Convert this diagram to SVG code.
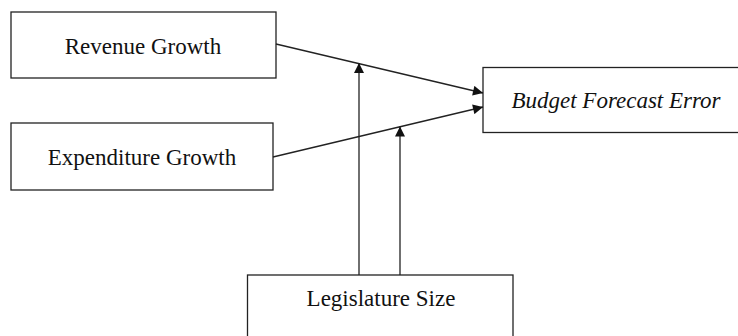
<svg xmlns="http://www.w3.org/2000/svg" width="738" height="336" viewBox="0 0 738 336">
<defs>
<style>
.box{fill:#fff;stroke:#222;stroke-width:1.3}
.lbl{font-family:"Liberation Serif","Times New Roman",serif;font-size:23px;fill:#111;text-anchor:middle}
.it{font-style:italic}
.conn{stroke:#222;stroke-width:1.3;fill:none;marker-end:url(#ah)}
</style>
<marker id="ah" viewBox="0 0 10 10" refX="10" refY="5" markerWidth="12" markerHeight="10" markerUnits="userSpaceOnUse" orient="auto">
<path d="M0,0 L10,5 L0,10 z" fill="#111"/>
</marker>
</defs>
<rect width="738" height="336" fill="#fff"/>
<g id="revenue">
<rect class="box" x="11" y="12" width="265" height="66"/>
<text class="lbl" x="143" y="54">Revenue Growth</text>
</g>
<g id="expenditure">
<rect class="box" x="11" y="123" width="262" height="67"/>
<text class="lbl" x="142" y="165">Expenditure Growth</text>
</g>
<g id="budget">
<rect class="box" x="483" y="67.5" width="270" height="65"/>
<text class="lbl it" x="616" y="108">Budget Forecast Error</text>
</g>
<g id="legislature">
<rect class="box" x="247.5" y="275" width="265.5" height="80"/>
<text class="lbl" x="381" y="306">Legislature Size</text>
</g>
<g id="connectors">
<line class="conn" x1="276" y1="44" x2="483" y2="93"/>
<line class="conn" x1="273" y1="157" x2="483" y2="107"/>
<line class="conn" x1="359" y1="275" x2="359" y2="63"/>
<line class="conn" x1="400" y1="275" x2="400" y2="126.5"/>
</g>
</svg>
